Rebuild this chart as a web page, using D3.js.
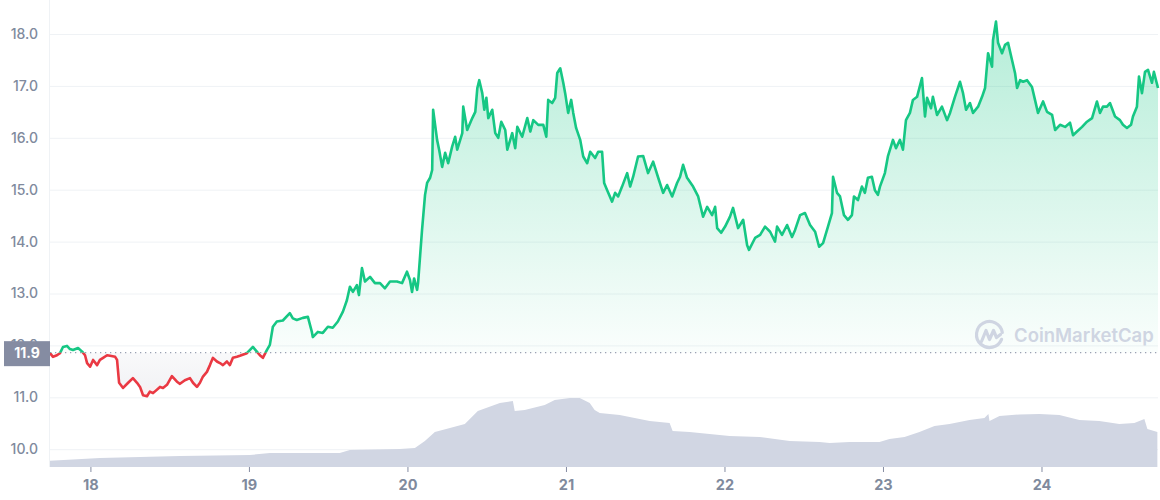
<!DOCTYPE html>
<html><head><meta charset="utf-8">
<script src="https://cdn.jsdelivr.net/npm/d3@7"></script>
<style>html,body{margin:0;padding:0;background:#fff}svg{display:block;font-family:Inter,"Noto Sans",sans-serif}</style>
</head><body><svg id="c" width="1160" height="500"></svg>
<script>
// ---- DATA (day of month, price USD) ----
const times=[17.745,17.764,17.789,17.808,17.827,17.852,17.871,17.890,17.922,17.948,17.966,17.979,17.998,18.017,18.042,18.060,18.080,18.105,18.124,18.156,18.168,18.181,18.206,18.238,18.268,18.294,18.313,18.332,18.357,18.375,18.395,18.439,18.458,18.483,18.514,18.546,18.565,18.596,18.628,18.647,18.672,18.691,18.710,18.735,18.754,18.773,18.798,18.817,18.836,18.861,18.880,18.899,18.924,18.943,18.987,19.025,19.050,19.069,19.088,19.113,19.132,19.151,19.176,19.214,19.258,19.277,
19.302,19.340,19.372,19.397,19.403,19.435,19.466,19.498,19.529,19.561,19.593,19.618,19.637,19.656,19.681,19.694,19.713,19.732,19.764,19.795,19.827,19.858,19.890,19.934,19.966,19.997,20.016,20.029,20.042,20.061,20.067,
20.092,20.111,20.124,20.143,20.156,20.162,20.187,20.200,20.219,20.238,20.257,20.282,20.301,20.314,20.346,20.352,20.377,20.409,20.428,20.441,20.453,20.472,20.485,20.498,20.510,20.535,20.554,20.573,20.592,20.617,20.630,20.661,20.680,20.693,20.724,20.756,20.775,20.794,20.825,20.857,20.876,20.888,20.913,20.932,20.945,20.964,20.983,20.995,21.014,21.033,21.046,21.064,21.090,21.109,21.134,21.153,21.184,21.203,21.228,21.241,21.260,21.291,21.310,21.329,21.354,21.386,21.405,21.424,21.455,21.487,21.518,21.550,21.582,21.613,21.638,21.670,21.701,
21.720,21.739,21.764,21.802,21.834,21.865,21.891,21.922,21.941,21.954,21.979,22.004,22.035,22.054,22.086,22.118,22.143,22.155,22.193,22.225,22.256,22.288,22.319,22.332,22.363,22.395,22.426,22.445,22.477,22.508,22.540,22.572,22.597,22.622,22.653,22.678,22.685,22.710,22.729,22.754,22.779,22.804,22.817,22.842,22.867,22.886,22.905,22.930,22.949,22.968,
22.981,23.012,23.031,23.063,23.082,23.107,23.126,23.145,23.170,23.189,23.215,23.246,23.265,23.278,23.303,23.315,23.341,23.372,23.404,23.423,23.454,23.486,23.505,23.524,23.549,23.568,23.600,23.625,23.644,23.663,23.688,23.694,23.713,23.726,23.751,23.770,23.789,23.814,23.833,23.846,23.865,23.884,23.909,23.940,23.959,23.978,24.010,24.035,24.067,24.086,24.117,24.149,24.180,24.199,24.224,24.256,24.287,24.319,24.350,24.369,24.388,24.413,24.432,24.464,24.495,24.514,24.539,24.565,24.577,24.602,24.615,24.634,24.653,24.672,24.697,24.709,24.735];
const prices=[11.85,11.78,11.81,11.85,11.97,11.99,11.93,11.91,11.95,11.88,11.81,11.66,11.59,11.72,11.62,11.72,11.76,11.81,11.80,11.78,11.72,11.28,11.18,11.28,11.37,11.28,11.20,11.04,11.02,11.11,11.08,11.20,11.18,11.24,11.41,11.30,11.26,11.33,11.37,11.28,11.20,11.28,11.40,11.49,11.62,11.76,11.69,11.66,11.62,11.69,11.62,11.76,11.78,11.80,11.85,11.97,11.88,11.81,11.76,11.91,12.01,12.36,12.46,12.48,12.62,12.52,
12.49,12.53,12.55,12.26,12.16,12.26,12.24,12.36,12.34,12.46,12.65,12.87,13.13,13.03,13.16,12.97,13.49,13.23,13.32,13.20,13.20,13.10,13.23,13.23,13.20,13.42,13.26,13.03,13.29,13.07,13.20,
14.22,14.90,15.13,15.23,15.38,16.54,15.96,15.77,15.44,15.71,15.51,15.83,16.02,15.77,16.09,16.60,16.15,16.38,16.50,16.96,17.11,16.86,16.54,16.77,16.38,16.54,16.09,16.00,16.31,16.15,15.77,16.09,15.80,16.21,16.02,16.38,16.12,16.34,16.25,16.25,16.02,16.73,16.67,16.77,17.25,17.34,17.06,16.86,16.48,16.73,16.48,16.19,15.96,15.64,15.51,15.73,15.61,15.73,15.73,15.13,14.99,14.77,14.94,14.87,15.06,15.32,15.06,15.25,15.64,15.65,15.32,15.54,15.23,14.94,15.09,14.87,15.13,
15.25,15.48,15.23,15.06,14.87,14.48,14.67,14.51,14.67,14.26,14.17,14.29,14.48,14.65,14.26,14.42,13.93,13.84,14.07,14.13,14.29,14.19,14.00,14.29,14.13,14.32,14.09,14.22,14.51,14.55,14.32,14.19,13.90,13.97,14.29,14.55,15.25,14.94,14.87,14.51,14.42,14.51,14.87,14.80,15.06,14.94,15.23,15.25,14.99,14.90,
15.06,15.32,15.64,15.96,15.80,15.96,15.77,16.34,16.48,16.73,16.79,17.15,16.41,16.77,16.57,16.79,16.44,16.60,16.34,16.48,16.79,17.08,16.86,16.54,16.67,16.48,16.60,16.79,16.96,17.63,17.37,17.88,18.24,17.83,17.63,17.79,17.83,17.50,17.25,16.96,17.11,17.08,17.11,16.98,16.73,16.48,16.70,16.50,16.44,16.15,16.25,16.21,16.29,16.05,16.12,16.21,16.31,16.38,16.70,16.48,16.60,16.60,16.67,16.41,16.34,16.25,16.19,16.25,16.41,16.60,17.18,16.86,17.27,17.31,17.06,17.27,16.96];
// volume (relative units)
const volTimes=[17.745,18.060,18.565,19.006,19.132,19.573,19.637,19.952,20.047,20.110,20.173,20.268,20.362,20.444,20.583,20.665,20.677,20.740,20.866,20.929,21.024,21.087,21.150,21.181,21.213,21.339,21.465,21.528,21.654,21.673,21.780,21.906,22.032,22.222,22.411,22.600,22.663,22.789,22.978,23.041,23.136,23.230,23.325,23.420,23.546,23.640,23.665,23.672,23.735,23.861,23.987,24.113,24.239,24.365,24.491,24.586,24.649,24.668,24.731];
const volumes=[6.3,9,11,12,14,14,17,18,19,26,35,39,43,56,64,66,56,57,62,67,69,69,64,57,54,52,48,46,44,36,35,33,31,30,26,25,24,25,25,28,30,35,41,43,47,49,53,46,51,52.5,53,52,47,46,43,44,48,38,35];
const xTickValues=[18,19,20,21,22,23,24];
const yTickValues=[10,11,12,13,14,15,16,17,18];
const baseValue=11.86;
const baseLabel="11.9";
const watermark="CoinMarketCap";

// ---- CHART ----
const L=50,R=1158,B=467;
const svg=d3.select("#c");
const x=d3.scaleLinear().domain([17.745,24.735]).range([L,R]);
const y=d3.scaleLinear().domain([10,18]).range([449.2,34]);
const yv=d3.scaleLinear().domain([0,100]).range([B,B-100]);
const data=times.map((t,i)=>({t,p:prices[i]}));
const vdata=volTimes.map((t,i)=>({t,v:volumes[i]}));
const by=y(baseValue);

const defs=svg.append("defs");
const gG=defs.append("linearGradient").attr("id","gGreen").attr("gradientUnits","userSpaceOnUse")
  .attr("x1",0).attr("x2",0).attr("y1",y(18.3)).attr("y2",by);
gG.append("stop").attr("offset",0).attr("stop-color","#16c784").attr("stop-opacity",0.32);
gG.append("stop").attr("offset",1).attr("stop-color","#16c784").attr("stop-opacity",0.02);
const gR=defs.append("linearGradient").attr("id","gRed").attr("gradientUnits","userSpaceOnUse")
  .attr("x1",0).attr("x2",0).attr("y1",by).attr("y2",y(11.0));
gR.append("stop").attr("offset",0).attr("stop-color","#9aa0b4").attr("stop-opacity",0.06);
gR.append("stop").attr("offset",0.7).attr("stop-color","#9aa0b4").attr("stop-opacity",0.12);
gR.append("stop").attr("offset",1).attr("stop-color","#ea3943").attr("stop-opacity",0.08);
defs.append("clipPath").attr("id","above").append("rect").attr("x",0).attr("y",0).attr("width",1160).attr("height",by);
defs.append("clipPath").attr("id","below").append("rect").attr("x",0).attr("y",by).attr("width",1160).attr("height",500-by);

// y grid + labels
const ya=svg.append("g").attr("transform",`translate(${L},0)`)
  .call(d3.axisLeft(y).tickValues(yTickValues).tickSize(-(R-L)).tickPadding(12).tickFormat(d3.format(".1f")));
ya.select(".domain").remove();
ya.selectAll(".tick line").attr("stroke","#eff2f5").attr("stroke-width",1);
ya.selectAll(".tick text").attr("fill","#808a9d").style("font-size","14px").style("font-weight","500").style("font-family","Inter, sans-serif");
// vertical axis line
svg.append("line").attr("x1",L-0.5).attr("x2",L-0.5).attr("y1",0).attr("y2",B).attr("stroke","#eff2f5");

// volume
svg.append("path").datum(vdata).attr("fill","#d1d6e3")
  .attr("d",d3.area().x(d=>x(d.t)).y0(B).y1(d=>yv(d.v)));

// price areas
const area=d3.area().x(d=>x(d.t)).y0(by).y1(d=>y(d.p));
svg.append("path").datum(data).attr("clip-path","url(#above)").attr("fill","url(#gGreen)").attr("d",area);
svg.append("path").datum(data).attr("clip-path","url(#below)").attr("fill","url(#gRed)").attr("d",area);

// watermark
const wm=svg.append("g").attr("transform","translate(989.5,334.5)").attr("fill","none").attr("stroke","#cfd5e2").attr("stroke-width",3.2).attr("stroke-linecap","round").attr("stroke-linejoin","round");
wm.append("path").attr("d",d3.arc()({innerRadius:13,outerRadius:13,startAngle:Math.PI*0.62,endAngle:Math.PI*2.45}));
wm.append("path").attr("d","M-8,7 L-3.5,-4 L0,5 L4,-4 L7,3 L11,0");
svg.append("text").attr("x",1014).attr("y",342).attr("fill","#cfd5e2")
  .style("font-size","18.5px").style("font-weight","600").style("font-family","Inter, sans-serif").text(watermark);

// baseline dotted
svg.append("line").attr("x1",L).attr("x2",R).attr("y1",by).attr("y2",by)
  .attr("stroke","#9aa1b3").attr("stroke-width",1.3).attr("stroke-dasharray","1.3,3.7");

// price line
const line=d3.line().x(d=>x(d.t)).y(d=>y(d.p));
svg.append("path").datum(data).attr("clip-path","url(#above)").attr("fill","none").attr("stroke","#16c784").attr("stroke-width",2.6).attr("stroke-linejoin","round").attr("d",line);
svg.append("path").datum(data).attr("clip-path","url(#below)").attr("fill","none").attr("stroke","#ea3943").attr("stroke-width",2.6).attr("stroke-linejoin","round").attr("d",line);

// x axis
const xa=svg.append("g").attr("transform",`translate(0,${B})`)
  .call(d3.axisBottom(x).tickValues(xTickValues).tickSize(5).tickPadding(8).tickFormat(d3.format("d")));
xa.select(".domain").remove();
xa.selectAll(".tick line").attr("stroke","#858ca2");
xa.selectAll(".tick text").attr("fill","#808a9d").style("font-size","14.5px").style("font-weight","700").style("font-family","Inter, sans-serif");

// base label box
svg.append("rect").attr("x",4).attr("y",by-11.5).attr("width",L-4).attr("height",25).attr("fill","#858ca2");
svg.append("text").attr("x",27).attr("y",by+5.5).attr("text-anchor","middle").attr("fill","#fff")
  .style("font-size","14px").style("font-weight","700").style("font-family","Inter, sans-serif").text(baseLabel);
</script></body></html>
